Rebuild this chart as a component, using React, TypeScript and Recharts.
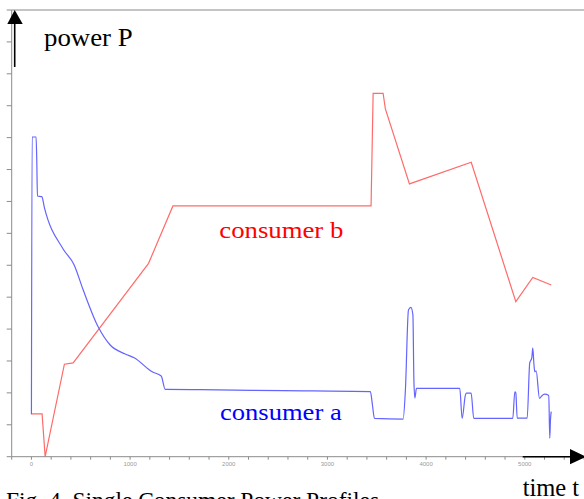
import { LineChart, Line, XAxis, YAxis, ReferenceLine } from "recharts";

// consumer a (blue), time in s, power in tick units
const aTime = [
  0, 7, 47, 54, 61, 105, 132, 321, 433, 524, 676, 798, 950, 1041, 1224, 1315, 1356,
  1711, 2553, 3435, 3456, 3476, 3767, 3790, 3821, 3846, 3866, 3876, 3886, 3902,
  4341, 4365, 4398, 4409, 4456, 4483, 4878, 4899, 4909, 4923, 5024, 5050, 5071,
  5081, 5093, 5101, 5115, 5149, 5170, 5200, 5243, 5253, 5260, 5268,
];
const aPower = [
  1.33, 10.02, 10.02, 9.3, 8.17, 8.15, 7.8, 6.51, 6.01, 5.23, 4.07, 3.5, 3.22, 3.1,
  2.66, 2.53, 2.11, 2.1, 2.07, 2.04, 1.62, 1.2, 1.18, 2.09, 4.6, 4.68, 4.44, 2.4,
  1.84, 2.14, 2.14, 1.2, 1.93, 1.99, 1.99, 1.2, 1.2, 2.03, 2.0, 1.21, 1.21, 2.94,
  3.1, 3.4, 2.88, 2.66, 2.69, 1.83, 1.9, 1.96, 1.92, 0.58, 1.15, 1.41,
];

// consumer b (red)
const bTime = [0, 108, 139, 334, 423, 1187, 1434, 3442, 3463, 3564, 3587, 3831, 4457, 4909, 5081, 5268];
const bPower = [1.34, 1.34, 0, 2.9, 2.94, 6.06, 7.86, 7.86, 11.39, 11.39, 10.9, 8.55, 9.23, 4.86, 5.62, 5.38];

const xTicks = [
  -200, 0, 200, 400, 600, 800, 1000, 1200, 1400, 1600, 1800, 2000, 2200, 2400, 2600,
  2800, 3000, 3200, 3400, 3600, 3800, 4000, 4200, 4400, 4600, 4800, 5000, 5200,
  5400, 5600,
];
const yTicks = [0, 1, 2, 3, 4, 5, 6, 7, 8, 9, 10, 11, 12, 13, 14];

const seriesA = aTime.map((t, i) => ({ t, p: aPower[i] }));
const seriesB = bTime.map((t, i) => ({ t, p: bPower[i] }));

const serif = "'Liberation Serif', 'Times New Roman', serif";

export default function App() {
  return (
    <div style={{ position: "absolute", left: 0, top: 0, width: 584, height: 499, background: "#fff" }}>
      <LineChart width={584} height={499} margin={{ top: 10, right: 0, bottom: 22.3, left: 0 }}>
        <XAxis
          type="number"
          dataKey="t"
          domain={[-200, 5600]}
          ticks={xTicks}
          height={20}
          stroke="#8c8c8c"
          tickSize={3}
          tick={{ fill: "#9a9a9a", fontSize: 6, fontFamily: "Arial, sans-serif" }}
          tickFormatter={(v) => (v >= 0 && v % 1000 === 0 ? String(v) : "")}
          allowDuplicatedCategory={false}
        />
        <YAxis
          type="number"
          domain={[0, 14]}
          ticks={yTicks}
          width={11.7}
          stroke="#8c8c8c"
          tickSize={5}
          tickFormatter={() => ""}
        />
        <ReferenceLine y={14} stroke="#c4c4c4" strokeWidth={2} />
        <Line
          data={seriesB}
          dataKey="p"
          stroke="#ff6b6b"
          strokeWidth={1.2}
          dot={false}
          isAnimationActive={false}
        />
        <Line
          type="monotone"
          data={seriesA}
          dataKey="p"
          stroke="#6464ff"
          strokeWidth={1.2}
          dot={false}
          isAnimationActive={false}
        />
      </LineChart>
      <svg
        width={584}
        height={499}
        style={{ position: "absolute", left: 0, top: 0, pointerEvents: "none" }}
      >
        <path d="M14.7 67 V22" stroke="#000" strokeWidth={1.6} />
        <path d="M7.3 24 L14.7 10 L22.7 24 Z" fill="#000" />
        <path d="M522.7 456.7 H571" stroke="#000" strokeWidth={1.6} />
        <path d="M570 449 L586 456.7 L570 464.3 Z" fill="#000" />
        <text x={44} y={46} fontFamily={serif} fontSize={25} textLength={88.7} lengthAdjust="spacingAndGlyphs">
          power P
        </text>
        <text x={219.3} y={238.3} fontFamily={serif} fontSize={24} fill="#ff0000" textLength={124} lengthAdjust="spacingAndGlyphs">
          consumer b
        </text>
        <text x={220} y={419.5} fontFamily={serif} fontSize={24} fill="#0000ff" textLength={121.7} lengthAdjust="spacingAndGlyphs">
          consumer a
        </text>
        <text x={522.7} y={496} fontFamily={serif} fontSize={24.5}>
          time t
        </text>
        <text x={6} y={508} fontFamily={serif} fontSize={24} textLength={373} lengthAdjust="spacingAndGlyphs">
          Fig. 4. Single Consumer Power Profiles
        </text>
      </svg>
    </div>
  );
}
